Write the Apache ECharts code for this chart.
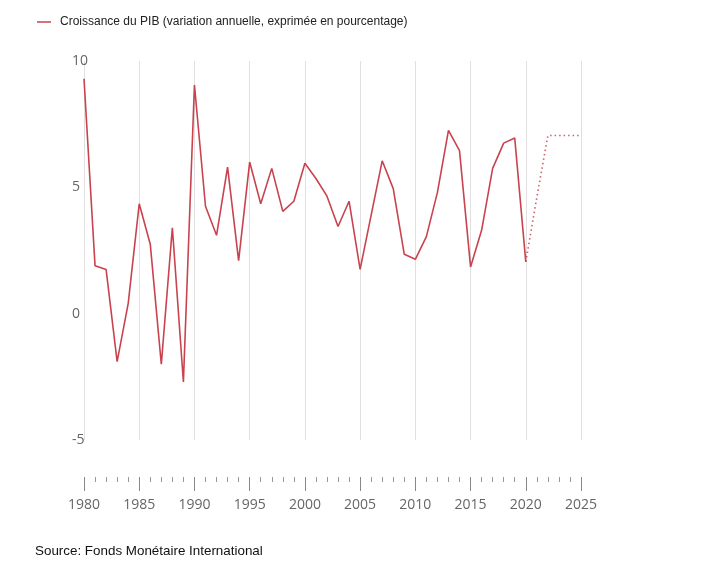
<!DOCTYPE html>
<html>
<head>
<meta charset="utf-8">
<script src="https://cdn.jsdelivr.net/npm/echarts@6/dist/echarts.min.js"></script>
<style>
html,body{margin:0;padding:0;background:#fff;}
#chart{width:707px;height:576px;}
</style>
</head>
<body>
<div id="chart"></div>
<script>
const years = [1980,1981,1982,1983,1984,1985,1986,1987,1988,1989,1990,1991,1992,1993,1994,1995,1996,1997,1998,1999,2000,2001,2002,2003,2004,2005,2006,2007,2008,2009,2010,2011,2012,2013,2014,2015,2016,2017,2018,2019,2020];
const growth = [9.3,1.9,1.75,-1.9,0.4,4.35,2.75,-2.0,3.4,-2.7,9.05,4.25,3.1,5.8,2.1,6.0,4.35,5.75,4.05,4.45,5.95,5.35,4.65,3.45,4.45,1.75,3.9,6.05,4.95,2.35,2.15,3.05,4.8,7.25,6.45,1.85,3.3,5.75,6.75,6.95,2.05];
const forecastYears = [2020,2021,2022,2023,2024,2025];
const forecast = [2.05,4.6,7.05,7.05,7.05,7.05];
const yTicks = [-5,0,5,10];
const legendLabel = 'Croissance du PIB (variation annuelle, exprimée en pourcentage)';
const sourceLabel = 'Source: Fonds Monétaire International';

const lineColor = '#c8434e';
const chart = echarts.init(document.getElementById('chart'));
chart.setOption({
  animation: false,
  backgroundColor: '#fff',
  legend: {
    data: [legendLabel],
    left: 32, top: 11,
    icon: 'rect', itemWidth: 14, itemHeight: 1.5, itemGap: 8,
    textStyle: {fontFamily: 'Liberation Sans, Arial, sans-serif', fontSize: 12, color: '#222', padding: [0, 0, 0, 4]}
  },
  graphic: [{
    type: 'text', left: 35, top: 545,
    style: {text: sourceLabel, fontFamily: 'Liberation Sans, Arial, sans-serif', fontSize: 13.4, fill: '#111'}
  }],
  grid: {left: 84, right: 126, top: 61, bottom: 136},
  xAxis: {
    type: 'value', min: 1980, max: 2025, interval: 5,
    offset: 37,
    axisLine: {show: false, onZero: false},
    axisTick: {show: true, length: 14, lineStyle: {color: '#888', width: 1}},
    minorTick: {show: true, splitNumber: 5, length: 5, lineStyle: {color: '#999', width: 1}},
    axisLabel: {margin: 21, color: '#666', fontFamily: 'Open Sans, sans-serif', fontSize: 14, formatter: v => String(v)},
    splitLine: {show: true, lineStyle: {color: '#e0e0e0', width: 1}},
    minorSplitLine: {show: false}
  },
  yAxis: {
    type: 'value', min: -5, max: 10, interval: 5,
    axisLine: {show: false}, axisTick: {show: false},
    splitLine: {show: false},
    axisLabel: {align: 'left', margin: 12, color: '#666', fontFamily: 'Open Sans, sans-serif', fontSize: 14,
      formatter: v => yTicks.includes(v) ? String(v) : ''}
  },
  series: [{
    name: legendLabel, type: 'line', symbol: 'none',
    data: years.map((y, i) => [y, growth[i]]),
    itemStyle: {color: lineColor},
    lineStyle: {color: lineColor, width: 1.6}
  }, {
    name: 'Prévision', type: 'line', symbol: 'none',
    data: forecastYears.map((y, i) => [y, forecast[i]]),
    itemStyle: {color: lineColor},
    lineStyle: {color: lineColor, width: 1.6, type: [1.5, 3], opacity: 0.85}
  }]
});
</script>
</body>
</html>
